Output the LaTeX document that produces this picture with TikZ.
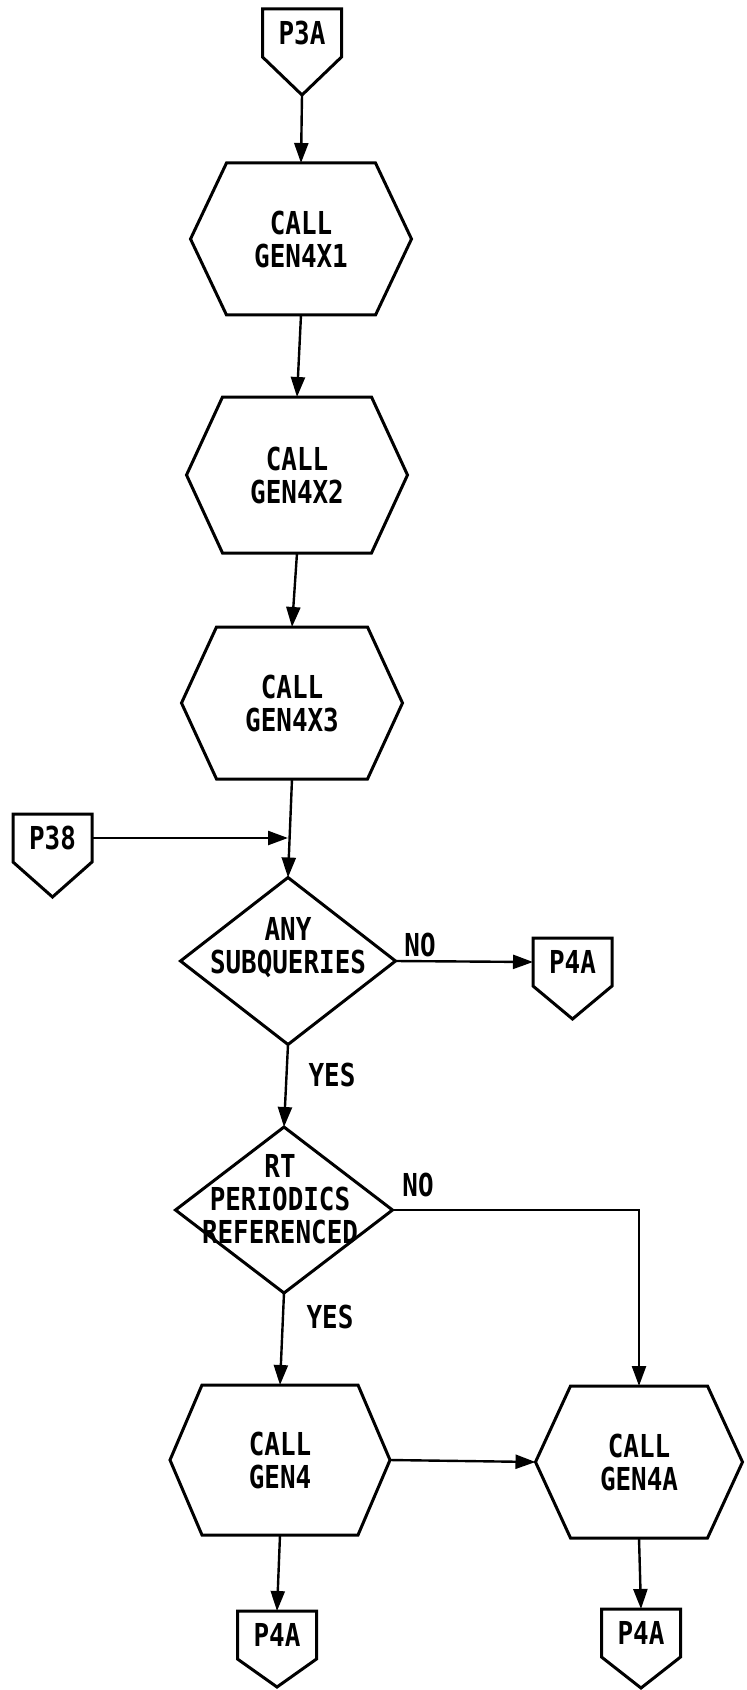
\documentclass[tikz,border=0pt]{standalone}
\usepackage{fontspec}
\setmainfont{DejaVu Sans Mono}[FakeStretch=0.82]
\usetikzlibrary{arrows.meta,shapes.geometric}

% hexagonal process box drawn over a rectangular node
\newcommand\hexline[2]{%
  \draw[outline] (#1.west) -- ([xshift=#2]#1.north west) -- ([xshift=-#2]#1.north east)
    -- (#1.east) -- ([xshift=-#2]#1.south east) -- ([xshift=#2]#1.south west) -- cycle;}
% off-page connector: rectangle with a point underneath
\newcommand\pentline[2]{%
  \draw[outline] (#1.north west) -- (#1.north east) -- (#1.south east)
    -- ([yshift=-#2]#1.south) -- (#1.south west) -- cycle;}

\begin{document}
\begin{tikzpicture}[x=0.5pt,y=-0.5pt,
  every node/.style={font=\fontsize{15.8}{16.5}\selectfont\bfseries, align=center, inner sep=0pt, outer sep=0pt},
  outline/.style={draw=black, line width=1.5pt, line join=miter},
  flow/.style={draw=black, line width=1.2pt, -{Triangle[length=10pt,width=7pt]}},
  hexbox/.style={minimum width=110.5pt, minimum height=76pt},
  pagebox/.style={minimum width=39.5pt, minimum height=24pt},
  decision/.style={diamond, outline, outer sep=0pt, minimum width=107.5pt, minimum height=83.5pt},
]
\fill[white] (0,0) rectangle (746,1690);
\useasboundingbox (0,0) rectangle (746,1690);

% off-page connectors
\node[pagebox] (p3a) at (302,33) {P3A};
\pentline{p3a}{19pt}
\coordinate (p3a tip) at ([yshift=-19pt]p3a.south);

\node[pagebox] (p38) at (52.5,838) {P38};
\pentline{p38}{17.5pt}

\node[pagebox] (p4a1) at (572.5,962) {P4A};
\pentline{p4a1}{16.5pt}

\node[pagebox] (p4a2) at (277,1635) {P4A};
\pentline{p4a2}{14pt}

\node[pagebox] (p4a3) at (641,1633) {P4A};
\pentline{p4a3}{15.5pt}

% process boxes
\node[hexbox] (h1) at (301,239) {CALL\\GEN4X1};
\hexline{h1}{18pt}
\node[hexbox, minimum height=78pt] (h2) at (297,475) {CALL\\GEN4X2};
\hexline{h2}{18pt}
\node[hexbox] (h3) at (292,703) {CALL\\GEN4X3};
\hexline{h3}{17.5pt}
\node[hexbox, minimum width=110pt, minimum height=75pt] (h4) at (280,1460) {CALL\\GEN4};
\hexline{h4}{16pt}
\node[hexbox, minimum width=103.5pt] (h5) at (639,1462) {CALL\\GEN4A};
\hexline{h5}{17.5pt}

% decisions
\node[decision] (d1) at (288,961) {};
\node (t1) at (288,948) {ANY\\SUBQUERIES};
\node[decision, minimum width=108.5pt, minimum height=83pt] (d2) at (284,1210) {};
\node (t2) at (280,1199) {RT\\PERIODICS\\REFERENCED};

% branch labels
\node (no1) at (420,945) {NO};
\node (yes1) at (332,1075) {YES};
\node (no2) at (418,1185) {NO};
\node (yes2) at (330,1317) {YES};

% connectors
\coordinate (join) at (d1.north |- p38.east);
\draw[flow] (p3a tip) -- (h1.north);
\draw[flow] (h1.south) -- (h2.north);
\draw[flow] (h2.south) -- (h3.north);
\draw[flow] (h3.south) -- (d1.north);
\draw[flow] (p38.east) -- (join);
\draw[flow] (d1.east) -- (p4a1.west);
\draw[flow] (d1.south) -- (d2.north);
\draw[flow] (d2.east) -| (h5.north);
\draw[flow] (d2.south) -- (h4.north);
\draw[flow] (h4.east) -- (h5.west);
\draw[flow] (h4.south) -- (p4a2.north);
\draw[flow] (h5.south) -- (p4a3.north);
\end{tikzpicture}
\end{document}
